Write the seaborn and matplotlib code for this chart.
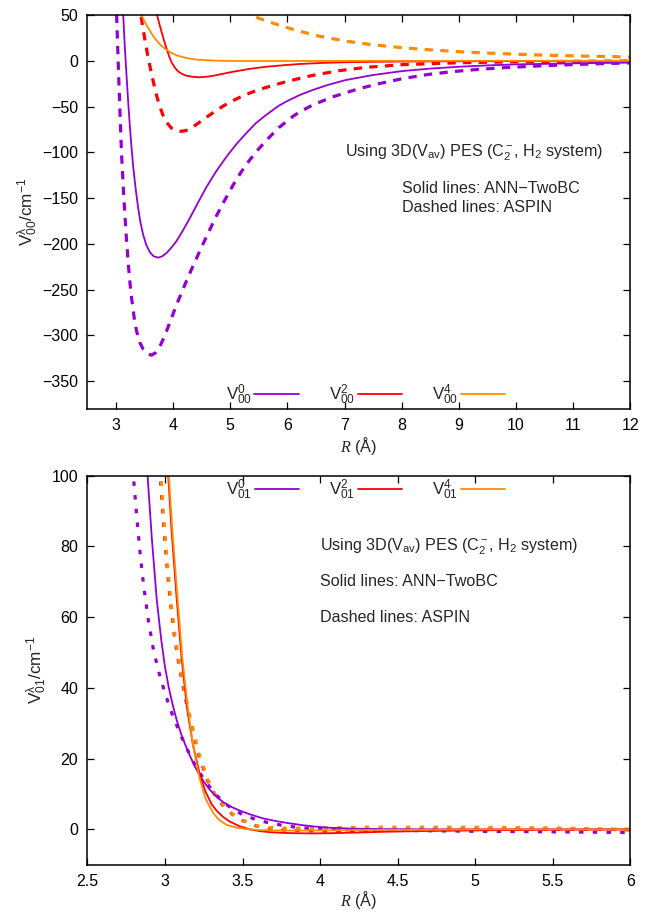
import matplotlib
matplotlib.use("Agg")
import matplotlib.pyplot as plt
from matplotlib.ticker import FuncFormatter
import pandas as pd
import seaborn as sns

# ---------------------------------------------------------------------------
# Radial coefficients V^lambda_00(R) (upper panel), cm^-1 vs R in Angstrom
# ---------------------------------------------------------------------------
# ANN-TwoBC, lambda = 0
r00_ann_0 = [3.10, 3.127, 3.155, 3.186, 3.215, 3.244, 3.273, 3.302, 3.345, 3.389,
             3.43, 3.476, 3.53, 3.593, 3.66, 3.738, 3.81, 3.884, 3.97, 4.058,
             4.17, 4.291, 4.43, 4.582, 4.75, 4.931, 5.1, 5.28, 5.45, 5.63,
             5.85, 5.98, 6.21, 6.435, 6.7, 7.02, 7.5, 8.01, 8.5, 9.0,
             9.5, 10.0, 11.0, 12.0]
v00_ann_0 = [120, 50, 15, -17, -46, -72, -95, -116, -140, -161,
             -177, -190, -201, -209, -213.5, -215, -213.5, -210, -204, -197,
             -185.5, -172, -155.5, -138, -121, -105, -91.5, -79, -68, -59,
             -49, -44.5, -37.5, -32, -26.5, -21, -15.5, -11.2, -8.5, -6.5,
             -5.0, -3.9, -2.8, -2.0]
# ASPIN, lambda = 0
r00_asp_0 = [2.99, 3.011, 3.04, 3.069, 3.098, 3.127, 3.156, 3.185, 3.215, 3.244,
             3.273, 3.32, 3.36, 3.42, 3.476, 3.55, 3.622, 3.69, 3.767, 3.85,
             3.942, 4.05, 4.175, 4.32, 4.465, 4.61, 4.756, 4.9, 5.047, 5.19,
             5.338, 5.48, 5.629, 5.85, 6.1, 6.21, 6.435, 6.785, 7.25, 7.6,
             8.01, 8.45, 8.89, 9.35, 9.82, 10.4, 11.0, 11.5, 12.0]
v00_asp_0 = [90, 51, -3, -54, -102, -137, -168, -196, -221, -242,
             -259, -281, -295, -308, -315, -320, -321.5, -319, -312, -301,
             -286, -268, -249, -228, -208, -188.5, -169.5, -152.5, -136, -121.5,
             -108.5, -97.5, -87, -73, -60.5, -56, -48.5, -39.5, -30.5, -25,
             -19.5, -15, -11.8, -9.3, -7.4, -5.6, -4.1, -3.1, -2.3]
# ANN-TwoBC, lambda = 2
r00_ann_2 = [3.68, 3.709, 3.75, 3.796, 3.84, 3.884, 3.93, 3.971, 4.03, 4.087,
             4.16, 4.233, 4.35, 4.465, 4.6, 4.756, 4.9, 5.047, 5.338, 5.63,
             5.98, 6.21, 6.6, 7.0, 7.5, 8.0, 9.0, 10.0, 11.0, 12.0]
v00_ann_2 = [60, 52.5, 42.5, 32, 22.5, 13.5, 5, -1.5, -7.5, -11.5,
             -14.5, -16.3, -17.5, -18, -17.3, -15.7, -13.8, -12, -8.8, -6.5,
             -4.6, -3.5, -2.3, -1.6, -1.1, -0.8, -0.5, -0.3, -0.2, -0.1]
# ASPIN, lambda = 2
r00_asp_2 = [3.40, 3.436, 3.47, 3.506, 3.55, 3.593, 3.636, 3.68, 3.72, 3.767,
             3.82, 3.884, 3.97, 4.058, 4.15, 4.233, 4.35, 4.465, 4.61, 4.756,
             4.9, 5.047, 5.19, 5.338, 5.48, 5.63, 5.92, 6.21, 6.435, 6.9,
             7.37, 8.01, 9.0, 10.0, 11.0, 12.0]
v00_asp_2 = [65, 50, 36.5, 23, 8, -5.5, -18, -30, -40, -50,
             -59, -67, -73.5, -76.5, -77, -76, -72, -67, -60.5, -54.2,
             -48.5, -43.5, -39.2, -35.3, -32, -29, -23.8, -19.2, -16, -10.8,
             -7.2, -4.2, -2.1, -1.1, -0.6, -0.3]
# ANN-TwoBC, lambda = 4
r00_ann_4 = [3.40, 3.447, 3.50, 3.55, 3.593, 3.65, 3.738, 3.81, 3.884, 3.97,
             4.058, 4.17, 4.291, 4.43, 4.58, 4.8, 5.05, 6.0, 7.0, 8.0,
             9.0, 10.0, 11.0, 12.0]
v00_ann_4 = [68, 50, 43, 37.5, 33, 27, 20, 15.5, 12, 8.7,
             6.1, 4.0, 2.4, 1.2, 0.6, 0.1, -0.2, -0.2, -0.1, -0.1,
             0.0, 0.0, 0.0, 0.0]
# ASPIN, lambda = 4
r00_asp_4 = [5.2, 5.367, 5.5, 5.63, 5.86, 6.14, 6.55, 7.02, 7.48, 8.01,
             8.53, 9.0, 9.47, 10.0, 10.5, 11.0, 11.5, 12.0]
v00_asp_4 = [54, 50, 46.5, 43.5, 38.8, 33.5, 27, 21.5, 17.6, 14.3,
             11.8, 10, 8.5, 7.2, 6.2, 5.4, 4.75, 4.2]

# ---------------------------------------------------------------------------
# Radial coefficients V^lambda_01(R) (lower panel)
# ---------------------------------------------------------------------------
r01_ann_0 = [2.87, 2.888, 2.915, 2.947, 2.975, 3.0, 3.025, 3.05, 3.075, 3.1,
             3.13, 3.161, 3.19, 3.225, 3.26, 3.289, 3.33, 3.375, 3.43, 3.482,
             3.55, 3.632, 3.72, 3.803, 3.9, 3.975, 4.06, 4.2, 4.4, 4.7,
             5.0, 5.5, 6.0]
v01_ann_0 = [112, 100, 82.5, 65, 54, 46, 40, 35.2, 31, 27.5,
             24, 20.8, 18, 15.2, 12.9, 11.2, 9.3, 7.7, 6.3, 5.3,
             4.2, 3.1, 2.3, 1.7, 1.1, 0.75, 0.45, 0.2, 0.05, 0.0,
             0.0, 0.0, 0.0]
r01_asp_0 = [2.78, 2.796, 2.818, 2.839, 2.861, 2.893, 2.925, 2.957, 3.0, 3.043,
             3.096, 3.139, 3.193, 3.246, 3.31, 3.375, 3.44, 3.503, 3.578, 3.654,
             3.76, 3.846, 3.93, 4.12, 4.5, 5.0, 5.5, 6.0]
v01_asp_0 = [110, 100, 88.5, 78.5, 69.5, 59, 51, 45, 38.5, 33,
             27.2, 23, 18.3, 14.5, 10.7, 7.7, 5.6, 4.1, 2.9, 2.0,
             1.1, 0.6, 0.25, -0.1, -0.3, -0.55, -0.7, -0.9]
r01_ann_2 = [3.00, 3.021, 3.043, 3.075, 3.107, 3.143, 3.18, 3.225, 3.26, 3.3,
             3.332, 3.375, 3.418, 3.48, 3.546, 3.61, 3.675, 3.76, 3.846, 3.95,
             4.06, 4.2, 4.4, 4.7, 5.0, 5.5, 6.0]
v01_ann_2 = [115, 100, 84.3, 65.6, 48.5, 34, 24, 15.5, 10.8, 7.2,
             5.3, 3.5, 2.2, 0.9, 0.0, -0.5, -0.8, -1.0, -1.1, -1.15,
             -1.1, -0.95, -0.7, -0.45, -0.3, -0.1, 0.0]
r01_asp_2 = [2.956, 2.970, 2.985, 3.007, 3.032, 3.060, 3.092, 3.125, 3.157, 3.189,
             3.221, 3.275, 3.321, 3.381, 3.436, 3.496, 3.585, 3.67, 3.8, 4.0,
             4.3, 4.7, 5.0, 6.0]
v01_asp_2 = [110, 100, 90, 77.5, 65.5, 55, 46, 38.5, 32, 26,
             20.5, 13.8, 9.8, 6.3, 4.2, 2.6, 1.0, 0.1, -0.3, -0.5,
             -0.3, -0.1, 0.0, 0.0]
r01_ann_4 = [3.00, 3.025, 3.047, 3.079, 3.111, 3.147, 3.18, 3.22, 3.26, 3.311,
             3.35, 3.396, 3.46, 3.525, 3.6, 3.7, 3.85, 4.0, 4.3, 4.7,
             5.0, 5.5, 6.0]
v01_ann_4 = [118, 100, 85, 66.5, 49, 34.5, 24, 15, 8.8, 4.6,
             2.6, 1.3, 0.5, 0.1, -0.2, -0.3, -0.35, -0.3, -0.2, -0.1,
             0.0, 0.0, 0.0]
r01_asp_4 = [2.96, 2.974, 2.989, 3.011, 3.036, 3.064, 3.096, 3.129, 3.161, 3.193,
             3.225, 3.279, 3.325, 3.385, 3.44, 3.5, 3.589, 3.675, 3.8, 4.0,
             4.3, 4.7, 5.0, 5.5, 5.8, 6.0]
v01_asp_4 = [110, 100, 90, 77.5, 65.5, 55, 46, 38.5, 32, 26,
             20.5, 13.8, 9.8, 6.3, 4.2, 2.6, 1.0, 0.5, 0.3, 0.4,
             0.6, 0.6, 0.6, 0.4, 0.1, -0.3]

lambdas = [0, 2, 4]
colors = {0: "#9400D3", 2: "#FF0000", 4: "#FF8C00"}

top_xticks = list(range(3, 13))
top_yticks = list(range(-350, 51, 50))
bot_xticks = [2.5, 3.0, 3.5, 4.0, 4.5, 5.0, 5.5, 6.0]
bot_yticks = [0, 20, 40, 60, 80, 100]

note_title = r"Using 3D(V$_{\mathrm{av}}$) PES (C$_2^-$, H$_2$ system)"
note_solid = "Solid lines: ANN\u2212TwoBC"
note_dashed = "Dashed lines: ASPIN"

FS_TEXT = 11.6
FS_TICK = 11.5

sns.set_theme(style="ticks")
plt.rcParams.update({
    "font.family": ["Liberation Sans", "DejaVu Sans"],
    "mathtext.fontset": "custom",
    "mathtext.rm": "Liberation Sans",
    "mathtext.sf": "Liberation Sans",
    "mathtext.it": "Liberation Serif:italic",
    "mathtext.bf": "Liberation Sans:bold",
    "font.size": FS_TEXT,
    "axes.linewidth": 1.1,
    "axes.edgecolor": "black",
    "xtick.direction": "in",
    "ytick.direction": "in",
    "xtick.top": True,
    "ytick.right": True,
    "xtick.major.size": 4.8,
    "ytick.major.size": 4.8,
    "xtick.major.width": 0.9,
    "ytick.major.width": 0.9,
    "xtick.major.pad": 7.0,
    "ytick.major.pad": 6.5,
    "xtick.labelsize": FS_TICK,
    "ytick.labelsize": FS_TICK,
    "xtick.color": "black",
    "ytick.color": "black",
})


def frame(r, v, lam, source):
    return pd.DataFrame({"R": r, "V": v, "lam": lam, "source": source})


top_df = pd.concat([
    frame(r00_ann_0, v00_ann_0, 0, "ANN"), frame(r00_asp_0, v00_asp_0, 0, "ASPIN"),
    frame(r00_ann_2, v00_ann_2, 2, "ANN"), frame(r00_asp_2, v00_asp_2, 2, "ASPIN"),
    frame(r00_ann_4, v00_ann_4, 4, "ANN"), frame(r00_asp_4, v00_asp_4, 4, "ASPIN"),
])
bot_df = pd.concat([
    frame(r01_ann_0, v01_ann_0, 0, "ANN"), frame(r01_asp_0, v01_asp_0, 0, "ASPIN"),
    frame(r01_ann_2, v01_ann_2, 2, "ANN"), frame(r01_asp_2, v01_asp_2, 2, "ASPIN"),
    frame(r01_ann_4, v01_ann_4, 4, "ANN"), frame(r01_asp_4, v01_asp_4, 4, "ASPIN"),
])

fig = plt.figure(figsize=(6.57, 9.16), dpi=100)
ax_top = fig.add_axes([0.1330, 0.5538, 0.8265, 0.4298])
ax_bot = fig.add_axes([0.1330, 0.0560, 0.8265, 0.4247])


def draw_panel(ax, df, sub, dash):
    handles = []
    # dashed (ASPIN) first, solid (ANN-TwoBC) drawn over them
    for lam in lambdas:
        d = df[(df.lam == lam) & (df.source == "ASPIN")]
        sns.lineplot(data=d, x="R", y="V", ax=ax, color=colors[lam],
                     linewidth=2.3, linestyle=(0, dash), estimator=None,
                     sort=False, legend=False)
    for lam in lambdas:
        d = df[(df.lam == lam) & (df.source == "ANN")]
        sns.lineplot(data=d, x="R", y="V", ax=ax, color=colors[lam],
                     linewidth=1.3, estimator=None, sort=False, legend=False)
        handles.append(ax.get_lines()[-1])
    labels = [r"V$^{%d}_{%s}$" % (lam, sub) for lam in lambdas]
    return handles, labels


def add_legend(ax, handles, labels, ypos):
    ax.legend(handles, labels, loc="center", bbox_to_anchor=(0.512, ypos),
              ncol=3, frameon=False, markerfirst=False, handlelength=2.6,
              handletextpad=0.15, columnspacing=1.8, fontsize=12.2,
              borderpad=0, borderaxespad=0)


# upper panel
h, lab = draw_panel(ax_top, top_df, "00", (2.6, 2.3))
ax_top.set_xlim(2.5, 12)
ax_top.set_ylim(-380, 50)
ax_top.set_xticks(top_xticks)
ax_top.set_yticks(top_yticks)
ax_top.set_xlabel(r"$R$ (Å)", fontsize=FS_TEXT, labelpad=1)
ax_top.set_ylabel(r"V$^{\mathrm{λ}}_{00}$/cm$^{-1}$", fontsize=12.3, labelpad=2)
add_legend(ax_top, h, lab, 0.036)
ax_top.text(7.0, -100, note_title, ha="left", va="center", fontsize=FS_TEXT)
ax_top.text(8.0, -140, note_solid, ha="left", va="center", fontsize=FS_TEXT)
ax_top.text(8.0, -160, note_dashed, ha="left", va="center", fontsize=FS_TEXT)

# lower panel
h, lab = draw_panel(ax_bot, bot_df, "01", (1.4, 2.9))
ax_bot.set_xlim(2.5, 6)
ax_bot.set_ylim(-10, 100)
ax_bot.set_xticks(bot_xticks)
ax_bot.set_yticks(bot_yticks)
ax_bot.xaxis.set_major_formatter(FuncFormatter(lambda v, p: "%g" % v))
ax_bot.set_xlabel(r"$R$ (Å)", fontsize=FS_TEXT, labelpad=0)
ax_bot.set_ylabel(r"V$^{\mathrm{λ}}_{01}$/cm$^{-1}$", fontsize=12.3, labelpad=2)
add_legend(ax_bot, h, lab, 0.964)
ax_bot.text(4.0, 80, note_title, ha="left", va="center", fontsize=FS_TEXT)
ax_bot.text(4.0, 70, note_solid, ha="left", va="center", fontsize=FS_TEXT)
ax_bot.text(4.0, 60, note_dashed, ha="left", va="center", fontsize=FS_TEXT)

for ax in (ax_top, ax_bot):
    for s in ax.spines.values():
        s.set_visible(True)
        s.set_color("black")

fig.savefig("out.png", dpi=100)
